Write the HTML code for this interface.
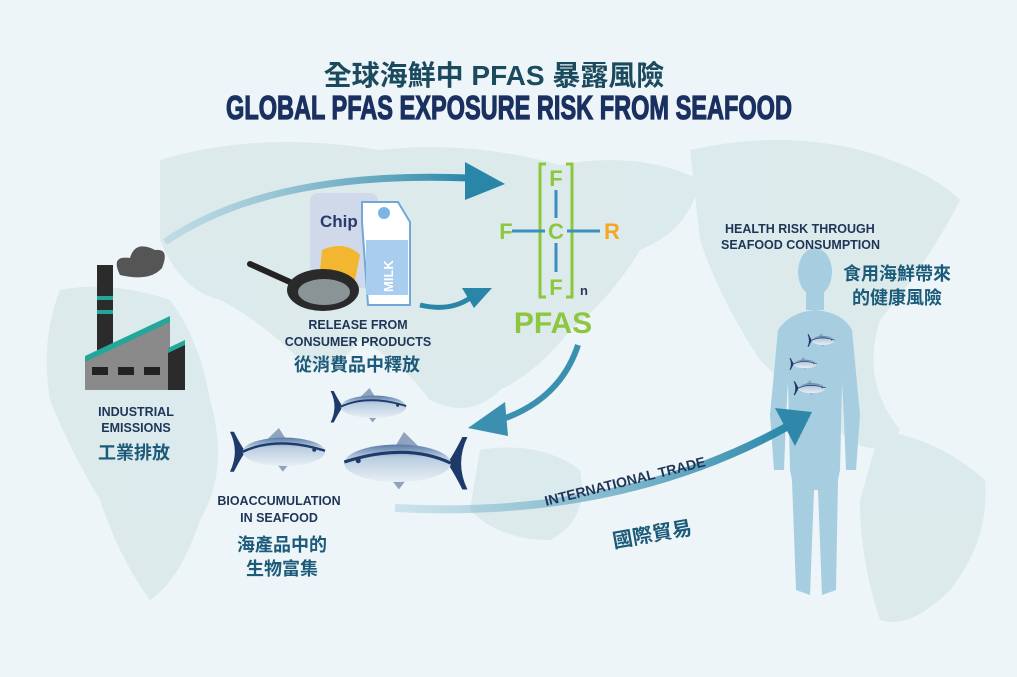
<!DOCTYPE html>
<html><head><meta charset="utf-8"><style>
html,body{margin:0;padding:0;background:#eaf3f6;}
svg{display:block}
text{font-family:"Liberation Sans","Noto Sans CJK TC",sans-serif;font-weight:bold}
</style></head><body>
<svg width="1017" height="677" viewBox="0 0 1017 677" xmlns="http://www.w3.org/2000/svg">
<defs>
<linearGradient id="fishg" x1="0" y1="0" x2="0" y2="1">
<stop offset="0" stop-color="#5a7aa8"/><stop offset="0.35" stop-color="#b9cde0"/><stop offset="1" stop-color="#e8eef5"/></linearGradient>
<linearGradient id="arr" x1="0" y1="0" x2="1" y2="0">
<stop offset="0" stop-color="#7fb9cf" stop-opacity="0.3"/><stop offset="1" stop-color="#2a86a8"/></linearGradient>
<g id="fish">
<path d="M2,4 Q12,25 2,46 L6,46 Q14,30 18,25 Q14,20 6,4Z" fill="#1d3a6a"/>
<path d="M40,12 L52,0 L58,10Z" fill="#8fa3bf"/>
<path d="M50,38 L56,46 L62,38Z" fill="#8fa3bf"/>
<ellipse cx="57" cy="25" rx="42" ry="15" fill="url(#fishg)"/>
<path d="M15,25 Q50,8 99,24" stroke="#1d3a6a" stroke-width="2.5" fill="none"/>
<circle cx="88" cy="23" r="2" fill="#1d3a6a"/>
</g>
</defs>
<rect width="1017" height="677" fill="#edf5f8"/>
<!-- map blobs -->
<g fill="#d4e6e7" opacity="0.7">
<path d="M160,160 Q260,130 380,150 Q470,140 560,165 Q640,150 700,180 Q690,230 640,250 Q610,300 570,330 Q540,370 500,390 Q470,420 430,400 Q400,360 360,340 Q330,380 300,360 Q260,320 220,300 Q180,290 160,240Z"/>
<path d="M60,290 Q110,280 170,300 Q200,340 210,400 Q230,470 200,520 Q180,580 150,600 Q120,560 100,500 Q70,450 50,400 Q40,340 60,290Z"/>
<path d="M480,450 Q540,440 580,470 Q590,520 550,540 Q500,540 470,510Z"/>
<path d="M690,150 Q780,130 860,150 Q930,170 960,200 Q930,260 880,320 Q860,380 900,430 Q880,460 850,440 Q800,400 760,360 Q720,300 700,240Z"/>
<path d="M880,430 Q940,440 985,480 Q990,540 950,590 Q910,630 880,620 Q860,560 860,500Z"/>
</g>
<!-- title -->
<text x="494" y="85" text-anchor="middle" font-size="28" fill="#1b4a5e">全球海鮮中 PFAS 暴露風險</text>
<text x="226" y="119" font-size="33" fill="#1a3060" stroke="#1a3060" stroke-width="1.2" textLength="566" lengthAdjust="spacingAndGlyphs">GLOBAL PFAS EXPOSURE RISK FROM SEAFOOD</text>
<!-- arrows -->
<path d="M165,242 Q270,170 470,178" stroke="url(#arr)" stroke-width="7" fill="none"/>
<path d="M465,162 L505,184 L465,200Z" fill="#2a86a8"/>
<path d="M420,305 Q450,312 470,298" stroke="#2a86a8" stroke-width="5" fill="none"/>
<path d="M462,288 L492,288 L474,308Z" fill="#2a86a8"/>
<path d="M578,345 Q560,400 500,420" stroke="#3b90b0" stroke-width="6" fill="none"/>
<path d="M505,402 L468,428 L508,436Z" fill="#3b90b0"/>
<!-- factory -->
<g>
<path d="M120,275 Q110,255 130,258 Q135,240 155,250 Q170,248 162,268 Q150,282 120,275Z" fill="#555"/>
<rect x="97" y="265" width="16" height="85" fill="#2b2b2b"/>
<rect x="97" y="296" width="16" height="4" fill="#23a79a"/>
<rect x="97" y="310" width="16" height="4" fill="#23a79a"/>
<path d="M85,360 L170,318 L170,390 L85,390Z" fill="#8a8a8a"/>
<path d="M85,356 L170,316 L170,322 L85,362Z" fill="#23a79a"/>
<path d="M168,350 L185,342 L185,390 L168,390Z" fill="#2b2b2b"/>
<path d="M168,348 L185,340 L185,345 L168,353Z" fill="#23a79a"/>
<rect x="92" y="367" width="16" height="8" fill="#222"/>
<rect x="118" y="367" width="16" height="8" fill="#222"/>
<rect x="144" y="367" width="16" height="8" fill="#222"/>
</g>
<!-- consumer products -->
<rect x="310" y="193" width="68" height="95" rx="8" fill="#cfd9ea"/>
<text x="320" y="227" font-size="17" fill="#2a3a6a">Chip</text>
<path d="M322,250 Q345,240 360,255 L355,280 Q335,285 320,270Z" fill="#f2b630"/>
<path d="M362,202 L398,202 L410,222 L410,305 L368,305 L362,222Z" fill="#ffffff" stroke="#6fa8d8" stroke-width="2"/>
<rect x="366" y="240" width="42" height="55" fill="#a9cdef"/>
<text x="0" y="0" font-size="13" fill="#fff" transform="translate(393,292) rotate(-90)">MILK</text>
<circle cx="384" cy="213" r="6" fill="#7ab5e8"/>
<line x1="250" y1="264" x2="290" y2="282" stroke="#222" stroke-width="6" stroke-linecap="round"/>
<ellipse cx="323" cy="290" rx="36" ry="21" fill="#2a2a2a"/>
<ellipse cx="324" cy="292" rx="26" ry="13" fill="#8a9497"/>
<!-- texts left -->
<g fill="#1f3557" font-size="12.5" text-anchor="middle">
<text x="358" y="329">RELEASE FROM</text>
<text x="358" y="346">CONSUMER PRODUCTS</text>
<text x="136" y="416">INDUSTRIAL</text>
<text x="136" y="432">EMISSIONS</text>
<text x="279" y="505">BIOACCUMULATION</text>
<text x="279" y="522">IN SEAFOOD</text>
</g>
<g fill="#1b5a78" font-size="18" text-anchor="middle">
<text x="357" y="371">從消費品中釋放</text>
<text x="134" y="459">工業排放</text>
<text x="282" y="551">海產品中的</text>
<text x="282" y="575">生物富集</text>
</g>
<!-- PFAS structure -->
<g font-family="'Liberation Sans',sans-serif" font-weight="normal" font-size="22">
<path d="M546,164 L540,164 L540,297 L546,297" stroke="#8dc63f" stroke-width="3" fill="none"/>
<path d="M566,164 L572,164 L572,297 L566,297" stroke="#8dc63f" stroke-width="3" fill="none"/>
<line x1="556" y1="190" x2="556" y2="218" stroke="#3a8fbf" stroke-width="3"/>
<line x1="556" y1="243" x2="556" y2="272" stroke="#3a8fbf" stroke-width="3"/>
<line x1="512" y1="231" x2="545" y2="231" stroke="#3a8fbf" stroke-width="3"/>
<line x1="567" y1="231" x2="600" y2="231" stroke="#3a8fbf" stroke-width="3"/>
<text x="556" y="186" text-anchor="middle" fill="#8dc63f">F</text>
<text x="556" y="239" text-anchor="middle" fill="#8dc63f">C</text>
<text x="556" y="295" text-anchor="middle" fill="#8dc63f">F</text>
<text x="506" y="239" text-anchor="middle" fill="#8dc63f">F</text>
<text x="612" y="239" text-anchor="middle" fill="#f5a623">R</text>
<text x="580" y="295" font-size="13" fill="#2a3a5a">n</text>
</g>
<text x="553" y="333" text-anchor="middle" font-size="30" fill="#8dc63f">PFAS</text>
<!-- fish -->
<use href="#fish" transform="translate(329,388) scale(0.78,0.75)"/>
<use href="#fish" transform="translate(228,428) scale(0.98,0.95)"/>
<use href="#fish" transform="translate(470,432) scale(-1.27,1.25)"/>
<!-- human -->
<g fill="#a6cde0">
<ellipse cx="815" cy="272" rx="17" ry="24"/>
<rect x="806" y="290" width="18" height="20"/>
<path d="M778,330 Q790,312 815,310 Q842,312 852,330 L860,415 L856,470 L846,470 L844,420 L842,380 L840,470 L838,480 L836,590 L822,595 L818,490 L814,490 L810,595 L796,590 L792,480 L790,470 L788,380 L786,420 L784,470 L774,470 L770,415Z"/>
</g>
<use href="#fish" transform="translate(807,333) scale(0.28,0.3)"/>
<use href="#fish" transform="translate(789,357) scale(0.28,0.28)"/>
<use href="#fish" transform="translate(793,380) scale(0.33,0.33)"/>
<!-- trade arrow over human -->
<path d="M395,508 Q620,520 790,425" stroke="url(#arr)" stroke-width="8" fill="none"/>
<path d="M775,408 L812,412 L795,446Z" fill="#2f88aa"/>
<g fill="#1f3557" font-size="12.5">
<text x="725" y="233">HEALTH RISK THROUGH</text>
<text x="721" y="249">SEAFOOD CONSUMPTION</text>
</g>
<g fill="#1b5a78" font-size="18" text-anchor="middle">
<text x="897" y="280">食用海鮮帶來</text>
<text x="897" y="304">的健康風險</text>
</g>
<text x="0" y="0" font-size="14" fill="#1f3557" transform="translate(546,506) rotate(-14)">INTERNATIONAL TRADE</text>
<text x="0" y="0" font-size="20" fill="#1b5a78" transform="translate(614,548) rotate(-10)">國際貿易</text>
</svg>
</body></html>
